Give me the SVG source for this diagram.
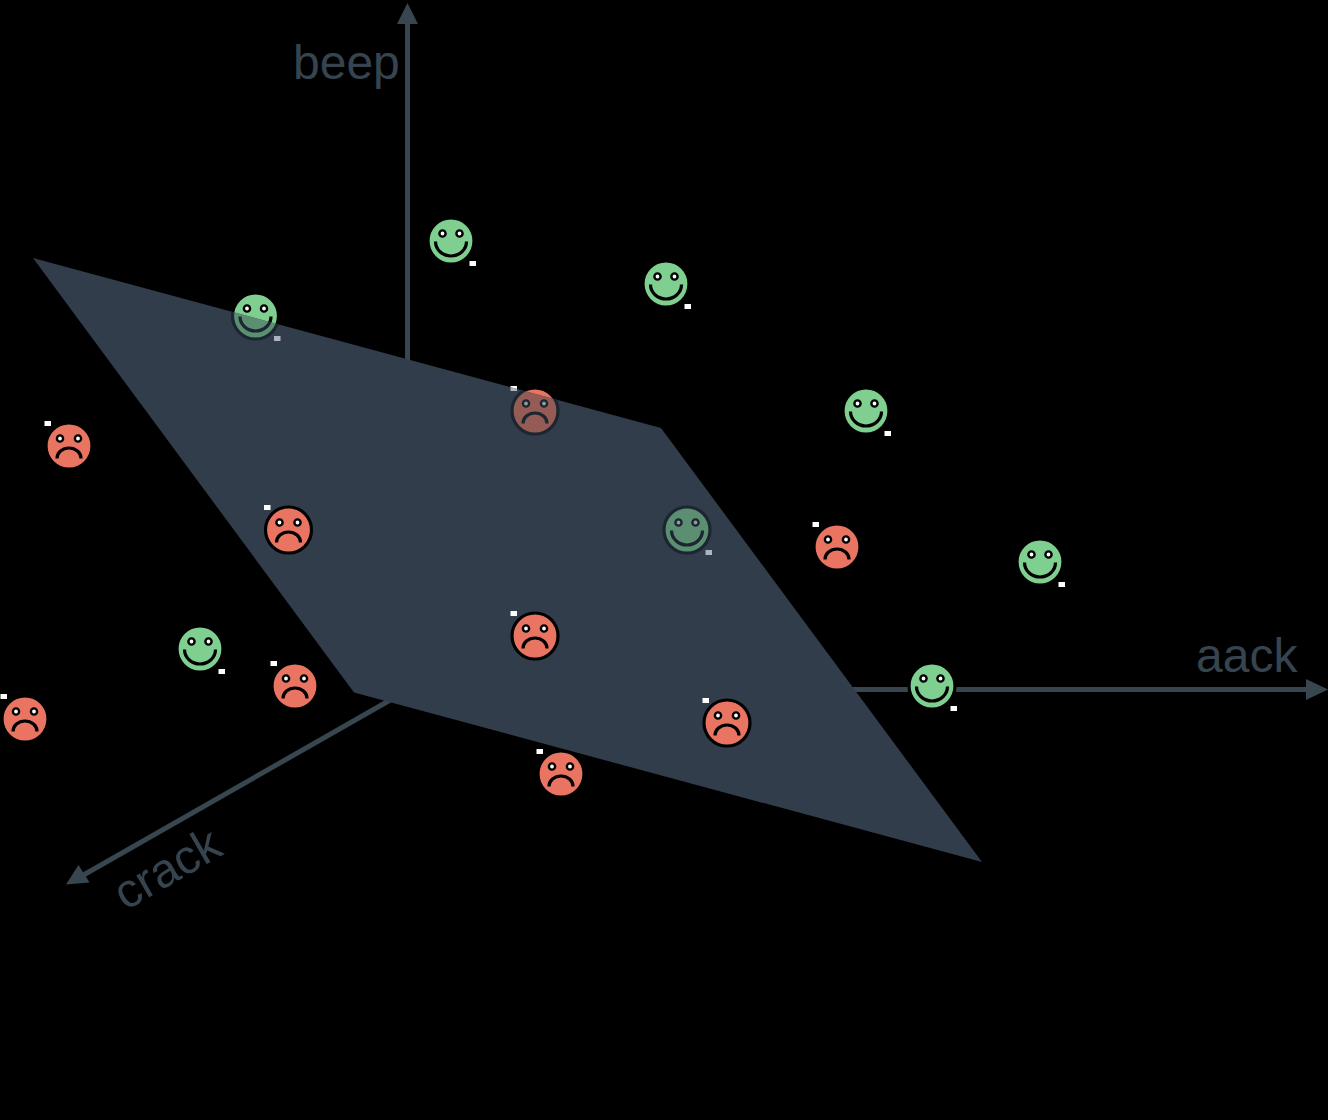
<svg xmlns="http://www.w3.org/2000/svg" width="1328" height="1120" viewBox="0 0 1328 1120">
<style>
.axis{stroke:#38464f;stroke-width:5;fill:none}
.head{fill:#38464f}
.lbl{font-family:"Liberation Sans",Arial,sans-serif;font-size:48px;fill:#36444f}
.plane{fill:#313d4a}
.bd{fill:var(--b);stroke:var(--s);stroke-width:3.2}
.ln{fill:none;stroke:var(--s);stroke-width:3.2}
.eye{fill:var(--e);stroke:var(--s);stroke-width:2.4}
.sq{fill:var(--q)}
.g{--b:#7fcf90;--s:#000;--e:#fff;--q:#fff}
.r{--b:#e97462;--s:#000;--e:#fff;--q:#fff}
.g.dim{--b:#5c8e72;--s:#1c2631;--e:#8d9aa2;--q:#aeb3bd}
.r.dim{--b:#955c55;--s:#1c2631;--e:#8d9aa2;--q:#aeb3bd}
</style>
<defs>
<clipPath id="pc"><polygon points="33,258 661,428 982,862 354,692.500"/></clipPath>
<g id="smile">
<circle class="bd" r="23"/>
<circle class="eye" cx="-8.500" cy="-7.500" r="3.100"/><circle class="eye" cx="8.500" cy="-7.500" r="3.100"/>
<path class="ln" d="M-15.500,0.500A15.500,14.500 0 0 0 15.500,0.500"/>
<rect class="sq" x="18.500" y="20" width="6.500" height="5"/>
</g>
<g id="frown">
<circle class="bd" r="23"/>
<circle class="eye" cx="-9" cy="-7.500" r="3.100"/><circle class="eye" cx="9" cy="-7.500" r="3.100"/>
<path class="ln" d="M-12,12.500A12,10.500 0 0 1 12,12.500"/>
<rect class="sq" x="-24.500" y="-25" width="6.500" height="5"/>
</g>
</defs>
<rect width="1328" height="1120" fill="#000"/>
<g id="connectors">
<path class="axis" d="M407.500,360V22"/>
<path class="head" d="M407.500,3L418,24H397Z"/>
<path class="axis" d="M850,689.500H1308"/>
<path class="head" d="M1328,689.500L1306,679V700Z"/>
<path class="axis" d="M392,699L80,877"/>
<path class="head" d="M66,884.500L78.500,865L89.500,882.500Z"/>
</g>
<g id="node-r-top-under" class="r"><use href="#frown" x="535" y="411"/></g>
<g id="node-g-left-under" class="g"><use href="#smile" x="255.500" y="316"/></g>
<polygon id="plane" class="plane" points="33,258 661,428 982,862 354,692.500"/>
<g clip-path="url(#pc)">
<g id="node-r-top-dim" class="r dim"><use href="#frown" x="535" y="411"/></g>
<g id="node-g-left-dim" class="g dim"><use href="#smile" x="255.500" y="316"/></g>
<g id="node-g-mid-dim" class="g dim"><use href="#smile" x="687" y="530"/></g>
</g>
<g id="node-g1" class="g"><use href="#smile" x="451" y="241"/></g>
<g id="node-g2" class="g"><use href="#smile" x="666" y="284"/></g>
<g id="node-g3" class="g"><use href="#smile" x="866" y="411"/></g>
<g id="node-g4" class="g"><use href="#smile" x="1040" y="562"/></g>
<g id="node-g5" class="g"><use href="#smile" x="932" y="686"/></g>
<g id="node-g6" class="g"><use href="#smile" x="200" y="649"/></g>
<g id="node-r1" class="r"><use href="#frown" x="69" y="446"/></g>
<g id="node-r2" class="r"><use href="#frown" x="288.500" y="530"/></g>
<g id="node-r3" class="r"><use href="#frown" x="535" y="636"/></g>
<g id="node-r4" class="r"><use href="#frown" x="727" y="723"/></g>
<g id="node-r5" class="r"><use href="#frown" x="837" y="547"/></g>
<g id="node-r6" class="r"><use href="#frown" x="295" y="686"/></g>
<g id="node-r7" class="r"><use href="#frown" x="25" y="719"/></g>
<g id="node-r8" class="r"><use href="#frown" x="561" y="774"/></g>
<text class="lbl" x="293" y="79">beep</text>
<text class="lbl" x="1196" y="672">aack</text>
<text class="lbl" transform="translate(125.500,911) rotate(-30)">crack</text>
</svg>
